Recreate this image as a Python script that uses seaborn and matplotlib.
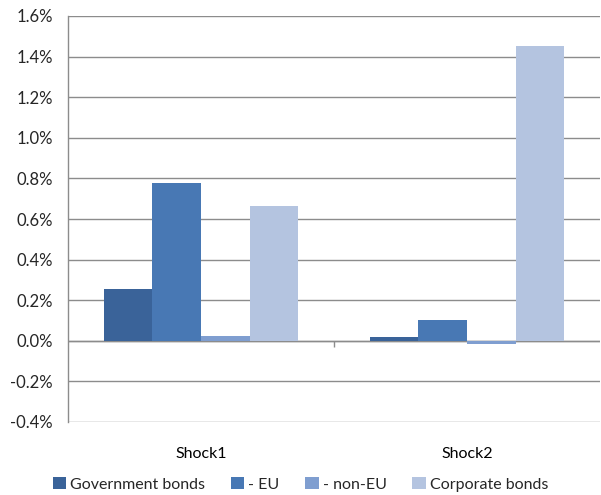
import matplotlib
matplotlib.use("Agg")
import matplotlib.pyplot as plt
import seaborn as sns
import pandas as pd
from matplotlib.ticker import FuncFormatter, MultipleLocator

categories = ["Shock1", "Shock2"]
series = ["Government bonds", "- EU", "- non-EU", "Corporate bonds"]
gov_bonds = [0.255, 0.021]
eu = [0.777, 0.103]
non_eu = [0.025, -0.015]
corp_bonds = [0.665, 1.453]
colors = ["#3A6399", "#4878B4", "#7F9ED0", "#B4C4E0"]

rows = []
for name, vals in zip(series, [gov_bonds, eu, non_eu, corp_bonds]):
    for c, v in zip(categories, vals):
        rows.append({"cat": c, "series": name, "value": v})
df = pd.DataFrame(rows)

sns.set_style("white")
plt.rcParams["font.family"] = ["Lato", "DejaVu Sans"]
plt.rcParams["font.weight"] = "normal"

fig = plt.figure(figsize=(6.01, 4.95), dpi=100)
ax = fig.add_axes([68 / 601, 1 - 422 / 495, 532 / 601, (422 - 16) / 495])

sns.barplot(data=df, x="cat", y="value", hue="series", order=categories,
            hue_order=series, palette=colors, saturation=1, width=0.73,
            ax=ax, edgecolor="none", linewidth=0)

ax.set_ylim(-0.4, 1.6)
ax.set_xlim(-0.5, 1.5)
ax.yaxis.set_major_locator(MultipleLocator(0.2))
ax.yaxis.set_major_formatter(FuncFormatter(lambda v, p: f"{v:.1f}%"))
ax.grid(axis="y", color="#8C8C8C", linewidth=1.0)
ax.set_axisbelow(True)
ax.axhline(0, color="#8C8C8C", linewidth=1.0, zorder=0.5)
ax.vlines(0.5, -0.03, 0, color="#8C8C8C", linewidth=1.0)

for s in ["top", "right", "bottom"]:
    ax.spines[s].set_visible(False)
ax.spines["left"].set_color("#8C8C8C")
ax.spines["left"].set_linewidth(1.0)

ax.set_xlabel("")
ax.set_ylabel("")
ax.tick_params(axis="x", length=0, labelsize=11.5, pad=18, colors="#000000")
ax.tick_params(axis="y", length=5, width=1.0, color="#8C8C8C", labelsize=12, pad=6, direction="out", left=False)
for lbl in ax.get_xticklabels() + ax.get_yticklabels():
    lbl.set_fontweight("normal")

handles, labels = ax.get_legend_handles_labels()
ax.legend_.remove()
fig.legend(handles, labels, loc="lower center", bbox_to_anchor=(0.5, -0.022),
           ncol=4, frameon=False, fontsize=11.5, handlelength=0.85,
           handleheight=0.85, handletextpad=0.25, columnspacing=1.6)

fig.savefig("out.png", dpi=100)
